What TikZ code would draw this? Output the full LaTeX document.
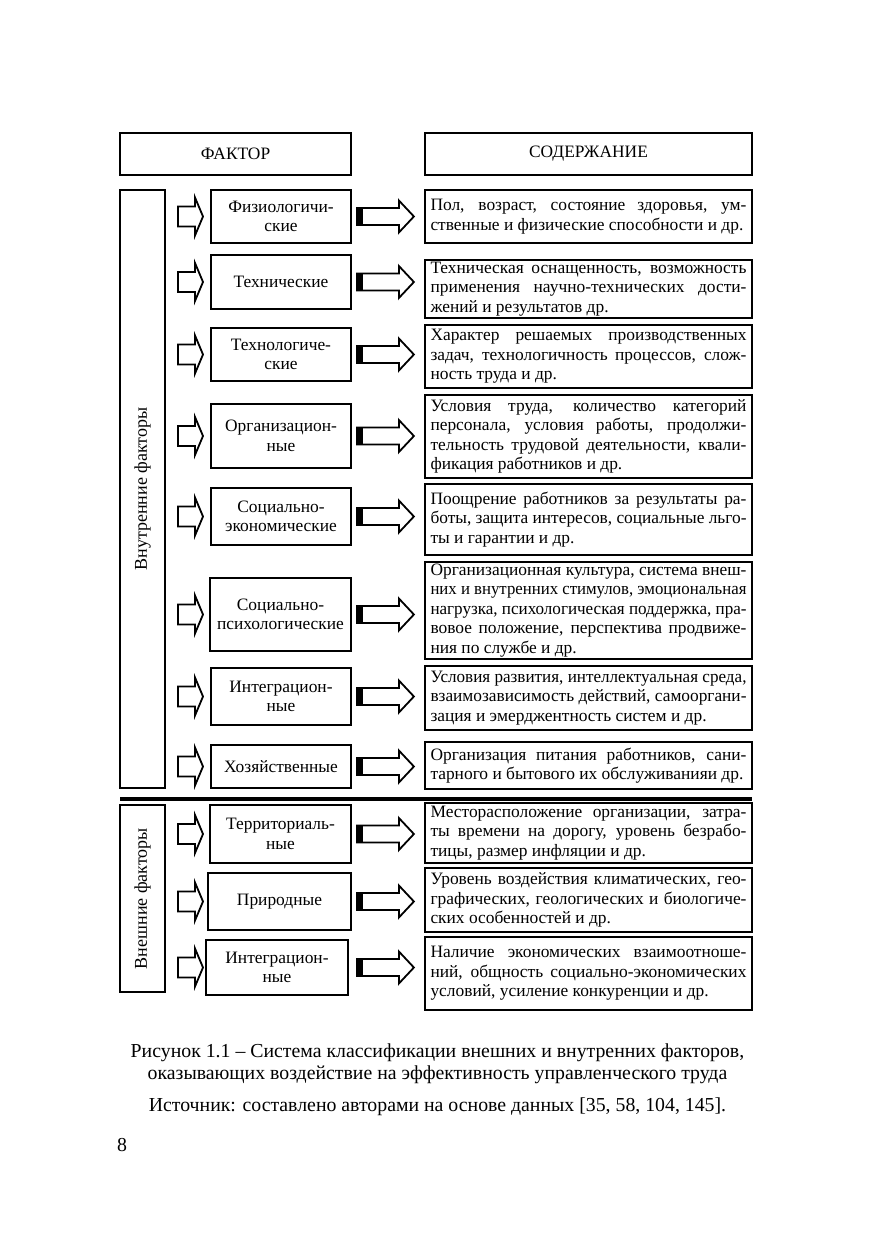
\documentclass[tikz,border=0pt]{standalone}
\usepackage{fontspec}
\setmainfont{Liberation Serif}
\usetikzlibrary{positioning}

% justified line / last line of a content box
\newsavebox\rowbox
\newcommand\jrow[1]{{\spaceskip=0pt\xspaceskip=0pt\sbox\rowbox{#1}%
  \ifdim\wd\rowbox>\hsize\resizebox{\hsize}{\height}{\usebox\rowbox}\else\makebox[\hsize][s]{#1}\fi}}
\newcommand\lrow[1]{{\spaceskip=0pt\xspaceskip=0pt\sbox\rowbox{#1}%
  \ifdim\wd\rowbox>\hsize\resizebox{\hsize}{\height}{\usebox\rowbox}\else\usebox\rowbox\fi}}

\begin{document}
\begin{tikzpicture}[x=0.5pt, y=-0.5pt,
  box/.style={draw=black, line width=1pt, align=center, inner sep=1pt,
              font=\fontsize{8.7}{9.75}\selectfont},
  hdr/.style={box, minimum width=#1, minimum height=21pt},
  factor/.style={box, minimum width=70pt},
  content/.style={box, line width=1.1pt, text width=158pt, inner xsep=2.75pt, align=flush left},
  side/.style={box, rotate=90, minimum height=22.5pt, font=\fontsize{9}{9.75}\selectfont},
  sepline/.style={line width=2pt},
  captxt/.style={align=center, inner sep=0pt, font=\fontsize{9.9}{11}\selectfont},
  inarr/.pic={\draw[line width=0.9pt, fill=white] (12,-10) -- (29,-10) -- (29,-19) -- (37,0)
                -- (29,19) -- (29,10) -- (12,10) -- cycle;},
  outarr/.pic={\draw[line width=0.9pt, fill=white] (-67,-8.5) -- (-25,-8.5) -- (-25,-16) -- (-10,0)
                -- (-25,16) -- (-25,8.5) -- (-67,8.5) -- cycle;
               \fill (-67,-8.5) rectangle (-61,8.5);}
]
  \fill[white] (0,0) rectangle (875,1241);
  \useasboundingbox (0,0) rectangle (875,1241);

  % headers
  \node[hdr=115.5pt] (factorhdr) at (235.5,154) {ФАКТОР};
  \node[hdr=163.5pt] (contenthdr) at (588.5,154) {СОДЕРЖАНИЕ};

  % groups
  \node[side, minimum width=299pt] (inner) at (142.5,489) {Внутренние факторы};
  \node[side, minimum width=93.5pt] (outer) at (142.5,898.5) {Внешние факторы};
  \draw[sepline] (120,799) -- (752,799);

  % factors
  \node[factor, minimum height=26.5pt] (f1) at (281,216.5) {Физиологичи-\\ские};
  \node[factor, minimum height=27pt] (f2) at (281,282) {Технические};
  \node[factor, minimum height=26.5pt] (f3) at (281,354.5) {Технологиче-\\ские};
  \node[factor, minimum height=32pt] (f4) at (281,436) {Организацион-\\ные};
  \node[factor, minimum height=28.5pt] (f5) at (281,516.5) {Социально-\\экономические};
  \node[factor, minimum width=70.5pt, minimum height=36.5pt] (f6) at (280.5,614.5) {Социально-\\психологические};
  \node[factor, minimum height=28.5pt] (f7) at (281,696.5) {Интеграцион-\\ные};
  \node[factor, minimum height=21.5pt] (f8) at (281,766.5) {Хозяйственные};
  \node[factor, minimum width=70.5pt, minimum height=29pt] (f9) at (280.5,834) {Территориаль-\\ные};
  \node[factor, minimum width=71.5pt, minimum height=28.5pt] (f10) at (279.5,901.5) {Природные};
  \node[factor, minimum width=71pt, minimum height=27.5pt] (f11) at (277,967.5) {Интеграцион-\\ные};

  % contents
  \node[content, minimum height=26.5pt] (c1) at (588.5,216.5)
    {\jrow{Пол, возраст, состояние здоровья, ум-}\\
     \lrow{ственные и физические способности и др.}};
  \node[content, minimum height=29pt] (c2) at (588.5,289)
    {\jrow{Техническая оснащенность, возможность}\\
     \jrow{применения научно-технических дости-}\\
     \lrow{жений и результатов др.}};
  \node[content, minimum height=31.5pt] (c3) at (588.5,356.5)
    {\jrow{Характер решаемых производственных}\\
     \jrow{задач, технологичность процессов, слож-}\\
     \lrow{ность труда и др.}};
  \node[content, minimum height=41.5pt] (c4) at (588.5,436.5)
    {\jrow{Условия труда, количество категорий}\\
     \jrow{персонала, условия работы, продолжи-}\\
     \jrow{тельность трудовой деятельности, квали-}\\
     \lrow{фикация работников и др.}};
  \node[content, minimum height=35.5pt] (c5) at (588.5,519.5)
    {\jrow{Поощрение работников за результаты ра-}\\
     \jrow{боты, защита интересов, социальные льго-}\\
     \lrow{ты и гарантии и др.}};
  \node[content, minimum height=47.5pt] (c6) at (588.5,610.5)
    {\jrow{Организационная культура, система внеш-}\\
     \jrow{них и внутренних стимулов, эмоциональная}\\
     \jrow{нагрузка, психологическая поддержка, пра-}\\
     \jrow{вовое положение, перспектива продвиже-}\\
     \lrow{ния по службе и др.}};
  \node[content, minimum height=32pt] (c7) at (588.5,698)
    {\jrow{Условия развития, интеллектуальная среда,}\\
     \jrow{взаимозависимость действий, самооргани-}\\
     \lrow{зация и эмерджентность систем и др.}};
  \node[content, minimum height=23.5pt] (c8) at (588.5,765.5)
    {\jrow{Организация питания работников, сани-}\\
     \lrow{тарного и бытового их обслуживанияи др.}};
  \node[content, minimum height=30pt] (c9) at (588.5,833)
    {\jrow{Месторасположение организации, затра-}\\
     \jrow{ты времени на дорогу, уровень безрабо-}\\
     \lrow{тицы, размер инфляции и др.}};
  \node[content, minimum height=32pt] (c10) at (588.5,900)
    {\jrow{Уровень воздействия климатических, гео-}\\
     \jrow{графических, геологических и биологиче-}\\
     \lrow{ских особенностей и др.}};
  \node[content, minimum height=36.5pt] (c11) at (588.5,973.5)
    {\jrow{Наличие экономических взаимоотноше-}\\
     \jrow{ний, общность социально-экономических}\\
     \lrow{условий, усиление  конкуренции и др.}};

  % block arrows
  \foreach \i in {1,...,11} {
    \pic at (f\i -| inner.south) {inarr};
    \pic at (f\i -| c\i.west) {outarr};
  }

  % caption
  \node[captxt] (caption) at (437.5,1064)
    {Рисунок 1.1 – Система классификации внешних и внутренних факторов,\\
     оказывающих воздействие на эффективность управленческого труда};
  \node[captxt] (source) at (437.5,1107) {Источник: составлено авторами на основе данных [35, 58, 104, 145].};
  \node[captxt] (page) at (122,1145) {8};
\end{tikzpicture}
\end{document}
